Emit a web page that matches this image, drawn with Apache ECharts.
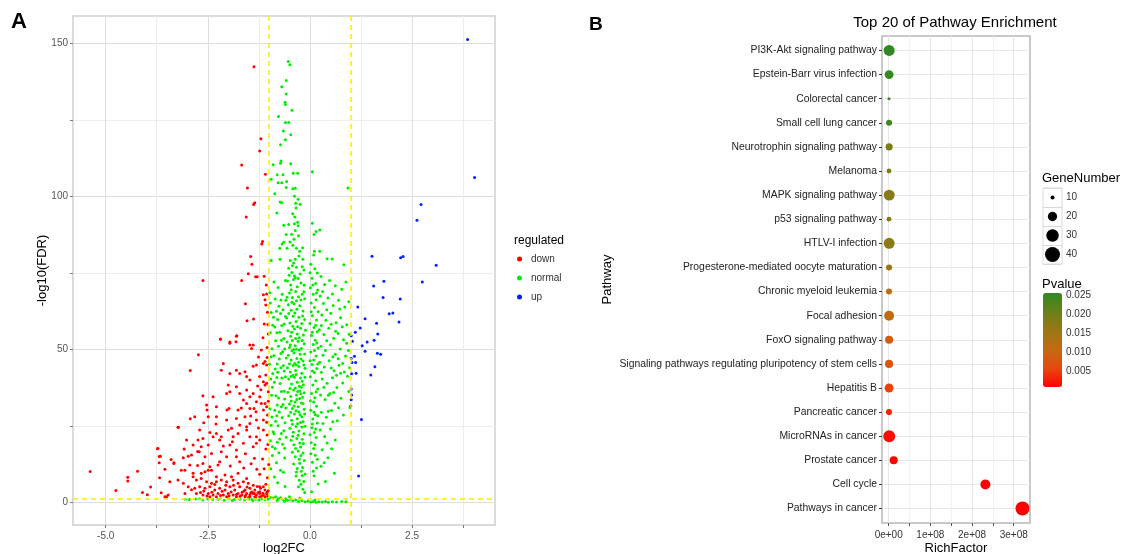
<!DOCTYPE html>
<html>
<head>
<meta charset="utf-8">
<script src="https://cdn.jsdelivr.net/npm/echarts@6/dist/echarts.min.js"></script>
<style>
  html, body { margin: 0; padding: 0; background: #fff; }
  #main { width: 1124px; height: 554px; }
</style>
</head>
<body>
<div id="main"></div>
<script>
// ---- panel A: volcano plot, [log2FC, -log10(FDR)] ----
const downPoints = [
  [-1.37,142.3],[-1.20,118.8],[-1.23,114.8],[-1.67,110.2],[-1.09,107.2],[-1.53,102.7],[-1.35,97.9],[-1.38,97.3],
  [-1.56,93.2],[-1.16,85.2],[-1.18,84.4],[-1.45,80.3],[-1.42,77.8],[-1.33,73.7],[-1.12,73.9],[-2.62,72.5],
  [-1.67,72.5],[-1.51,74.7],[-1.29,73.7],[-1.58,64.9],[-1.14,67.8],[-1.10,66.2],[-1.06,68.1],[-1.08,64.5],
  [-1.54,59.3],[-1.38,59.9],[-1.79,54.4],[-2.19,53.3],[-1.96,52.4],[-2.73,48.2],[-2.93,43.1],[-3.22,24.5],
  [-3.73,17.5],[-3.69,15.0],[-3.69,12.9],[-5.38,10.1],[-4.22,10.2],[-4.46,8.2],[-4.46,7.0],[-4.75,3.9],
  [-3.98,2.5],[-3.51,1.8],[-3.33,12.9],
  [-2.19,53.4],[-1.96,52.0],[-1.80,54.3],[-1.81,52.5],[-1.47,51.4],[-1.39,51.4],[-1.43,50.3],[-1.19,49.8],
  [-1.14,45.4],[-1.10,46.0],[-1.06,44.9],[-1.31,44.9],[-1.39,44.5],[-2.12,45.4],[-2.17,43.2],[-1.96,42.1],
  [-1.80,43.2],[-1.72,42.1],[-1.59,42.7],[-1.55,41.1],[-1.47,40.0],[-1.23,41.1],[-1.14,39.4],[-1.10,38.3],
  [-1.06,38.9],[-2.62,34.8],[-2.37,34.5],[-2.00,38.3],[-1.96,36.1],[-2.04,35.6],[-1.80,37.8],[-1.72,35.6],
  [-1.55,36.7],[-1.47,34.5],[-1.63,33.4],[-1.39,35.6],[-1.31,32.9],[-1.23,34.5],[-1.19,32.3],[-1.10,32.3],
  [-1.06,31.2],[-2.53,31.8],[-2.52,30.2],[-2.29,31.2],[-2.03,30.2],[-1.98,30.7],[-1.76,30.2],[-1.55,32.3],
  [-1.47,30.7],[-1.37,30.7],[-1.32,29.6],[-1.14,30.2],[-2.93,27.3],[-2.82,28.0],[-2.49,28.0],[-2.29,28.0],
  [-2.04,26.9],[-1.80,27.4],[-1.72,25.3],[-1.59,28.0],[-1.55,24.7],[-1.47,25.8],[-1.31,26.9],[-1.14,26.9],
  [-3.23,24.5],[-2.70,23.6],[-2.62,20.9],[-2.37,21.4],[-2.29,22.5],[-2.17,21.4],[-2.00,23.6],[-1.88,21.4],
  [-1.76,22.5],[-1.55,23.6],[-1.47,21.4],[-1.31,21.4],[-1.23,20.4],[-1.14,23.6],[-3.72,17.6],[-2.86,18.7],
  [-2.74,20.4],[-2.66,18.2],[-2.49,18.7],[-2.21,20.4],[-1.96,18.7],[-1.80,17.1],[-1.63,19.3],[-1.39,18.2],
  [-1.31,19.3],[-3.66,15.1],[-3.10,14.6],[-2.98,15.1],[-2.90,15.5],[-2.71,16.5],[-2.57,14.9],[-2.41,16.0],
  [-2.17,16.5],[-2.04,14.9],[-1.80,14.9],[-1.72,13.3],[-3.33,12.7],[-2.94,12.2],[-2.62,12.7],[-2.45,11.6],
  [-2.25,12.2],[-2.21,13.3],[-3.15,10.5],[-3.06,10.5],[-2.86,9.5],[-2.66,9.5],[-2.57,10.0],[-2.49,10.5],
  [-2.41,10.5],[-2.29,8.4],[-2.08,8.9],[-1.92,8.4],[-1.76,9.5],[-1.55,7.8],[-1.23,9.2],[-3.68,8.0],
  [-3.23,7.3],[-2.86,8.4],[-2.78,7.3],[-2.66,7.8],[-2.53,6.7],[-2.41,6.2],[-2.29,6.7],[-2.17,7.3],
  [-2.04,6.7],[-1.88,7.3],[-1.76,6.2],[-1.63,6.7],[-1.51,6.2],[-1.39,5.6],[-1.23,5.1],[-1.14,5.1],
  [-3.43,6.7],[-3.10,6.2],[-2.98,5.1],[-2.82,4.6],[-2.70,5.1],[-2.57,4.6],[-2.45,5.1],[-2.33,4.0],
  [-2.21,4.6],[-2.08,4.0],[-1.96,5.1],[-1.84,4.0],[-1.72,5.1],[-1.59,4.0],[-1.47,4.6],[-1.35,4.0],
  [-1.23,3.5],[-1.10,4.0],[-3.64,3.1],[-3.47,2.4],[-3.06,2.9],[-2.78,2.9],[-2.62,2.4],[-2.49,2.9],
  [-2.37,2.4],[-2.25,2.9],[-2.12,2.4],[-2.00,2.9],[-1.88,2.4],[-1.76,2.9],[-1.67,2.4],[-1.55,2.9],
  [-1.47,2.4],[-1.39,2.9],[-1.31,2.4],[-1.23,2.9],[-1.14,2.4],[-1.06,2.7],[-3.55,1.8],[-2.45,1.8],
  [-2.29,1.8],[-2.04,1.8],[-1.80,1.8],[-1.59,1.8],[-1.47,1.8],[-1.35,1.8],[-1.23,1.8],[-1.10,1.8],
  [-1.27,3.2],[-1.18,2.1],[-1.42,3.4],[-1.62,3.6],[-1.03,2.0],[-1.05,3.3],[-1.21,4.6],[-1.33,1.6],
  [-1.50,1.6],[-1.71,2.0],[-1.93,3.4],[-2.15,3.6],[-2.40,3.3],[-2.60,3.7],[-1.04,62.1],[-1.12,58.3],
  [-1.02,55.0],[-1.15,53.8],[-1.05,50.6],[-1.26,47.5],[-1.08,41.6],[-1.02,36.1],[-1.20,36.8],[-1.04,28.5],
  [-1.26,24.3],[-1.05,22.0],[-1.08,17.4],[-1.16,14.2],[-1.44,12.6],[-1.62,11.2],[-1.30,10.8],[-1.04,8.0],
  [-1.90,19.8],[-2.30,25.6],[-2.60,26.0],[-2.75,16.6],[-2.45,22.8],[-3.02,20.4],[-3.40,14.0],[-3.55,10.8],
  [-3.90,5.0],[-4.10,3.2],
  [-1.02,3.8],[-1.08,5.9],[-1.15,3.0],[-1.29,5.2],[-1.36,2.9],[-1.45,3.1],[-1.54,5.0],[-1.58,2.2],
  [-1.66,3.3],[-1.80,2.6],[-1.87,5.6],[-1.98,2.1],[-2.06,5.6],[-2.19,2.2],[-2.33,5.8],[-2.52,2.1],
  [-2.68,3.2],[-2.90,4.1],[-1.01,12.4],[-1.03,18.9],[-1.06,26.2],[-1.02,33.0],[-1.05,47.3],[-1.03,58.1],
  [-1.07,71.0],[-1.28,38.0],[-1.45,28.2],[-1.68,30.8],[-1.92,24.2],[-2.12,18.4],[-1.58,15.9],[-1.36,14.4],
  [-1.12,11.0],[-1.95,11.9],[-2.75,12.0],[-3.08,17.4]
];
const normalPoints = [
  // bottom strip, not significant
  [-3.05,1.0],[-2.95,0.9],[-2.80,1.1],[-2.62,0.8],[-2.50,1.1],[-2.38,0.9],[-2.25,1.0],[-2.10,0.7],
  [-1.98,1.1],[-1.85,0.9],[-1.72,1.0],[-1.60,0.8],[-1.50,1.1],[-1.42,0.9],[-1.33,1.0],[-1.25,0.8],
  [-1.18,1.1],[-1.10,0.9],[-1.03,1.0],[-0.97,1.6],[-0.90,1.4],[-0.84,1.8],[-0.78,1.2],[-0.72,1.5],
  [-0.66,0.9],[-0.60,1.2],[-0.55,0.7],[-0.48,1.0],[-0.42,0.5],[-0.35,0.8],[-0.28,0.3],[-0.20,0.6],
  [-0.12,0.2],[-0.05,0.4],[0.02,0.1],[0.08,0.3],[0.15,0.0],[0.22,0.2],[0.30,0.1],[0.38,0.3],
  [0.45,0.0],[0.55,0.2],[0.65,0.1],[0.78,0.3],[0.88,0.2],[-0.80,0.6],[-0.62,0.4],[-0.50,1.8],
  [-0.25,1.3],[0.12,0.8],[-2.70,1.2],[-2.20,1.2],[-1.90,0.6],[-1.40,0.6],
  // left band
  [-0.98,68.5],[-0.95,62.0],[-0.97,55.4],[-0.93,50.2],[-0.99,45.1],[-0.96,40.3],[-0.94,35.0],[-0.98,30.6],
  [-0.95,25.2],[-0.97,20.1],[-0.92,15.3],[-0.96,11.0],[-0.88,72.0],[-0.85,66.4],[-0.89,60.5],[-0.86,57.3],
  [-0.84,52.8],[-0.88,48.0],[-0.85,43.6],[-0.87,39.2],[-0.83,34.8],[-0.86,30.1],[-0.84,26.5],[-0.88,22.4],
  [-0.85,17.6],[-0.82,12.9],[-0.87,8.3],[-0.78,70.2],[-0.76,64.1],[-0.79,59.7],[-0.74,55.6],[-0.77,51.0],
  [-0.75,46.8],[-0.79,42.5],[-0.73,38.8],[-0.77,34.1],[-0.75,29.5],[-0.78,25.0],[-0.74,20.7],[-0.76,16.2],
  [-0.72,10.5],[-0.79,6.4],[-0.68,68.0],[-0.66,62.9],[-0.69,57.8],[-0.64,53.5],[-0.67,49.2],[-0.65,44.7],
  [-0.69,40.6],[-0.63,36.3],[-0.66,32.0],[-0.68,27.7],[-0.64,23.4],[-0.67,19.0],[-0.62,14.5],[-0.65,9.8],
  [-0.61,5.2],[-0.60,72.5],[-0.59,66.0],[-0.60,60.7],[-0.58,47.2],[-0.60,41.0],[-0.59,30.8],[-0.58,21.3],
  [-0.97,65.1],[-0.91,57.9],[-0.95,47.6],[-0.91,42.1],[-0.92,37.6],[-0.93,27.9],[-0.90,23.1],[-0.92,18.2],
  [-0.82,62.4],[-0.81,55.4],[-0.80,45.2],[-0.81,40.8],[-0.80,31.8],[-0.81,28.3],[-0.80,19.6],[-0.71,66.1],
  [-0.72,61.7],[-0.70,53.0],[-0.71,48.6],[-0.71,44.0],[-0.70,36.2],[-0.70,31.2],[-0.70,22.5],[-0.63,58.3],
  [-0.62,50.1],[-0.63,42.9],[-0.62,33.8],[-0.61,26.0],[-0.62,17.7],
  // main column left of zero
  [-0.35,97.7],[-0.34,96.2],[-0.42,94.3],[-0.37,93.2],[-0.30,91.5],[-0.38,91.0],[-0.29,90.4],[-0.52,90.8],
  [-0.36,88.8],[-0.45,87.6],[-0.39,86.0],[-0.28,87.1],[-0.49,85.1],[-0.56,83.0],[-0.33,83.0],[-0.18,83.2],
  [-0.25,82.0],[-0.42,84.0],[-0.36,79.4],[-0.17,79.4],[-0.40,78.2],[-0.27,80.5],[-0.48,79.0],[-0.52,76.5],
  [-0.44,75.1],[-0.33,76.8],[-0.24,74.6],[-0.15,75.9],[-0.38,74.0],[-0.55,72.3],[-0.47,71.0],[-0.40,72.8],
  [-0.31,70.4],[-0.22,71.7],[-0.14,70.9],[-0.36,73.5],[-0.50,68.4],[-0.43,66.9],[-0.35,68.9],[-0.28,67.2],
  [-0.19,68.0],[-0.13,66.5],[-0.56,67.0],[-0.53,64.6],[-0.46,62.8],[-0.39,64.9],[-0.32,63.1],[-0.25,64.2],
  [-0.17,62.5],[-0.44,65.4],[-0.57,60.2],[-0.49,58.6],[-0.41,60.8],[-0.34,59.1],[-0.27,60.5],[-0.20,58.4],
  [-0.13,59.7],[-0.54,56.1],[-0.47,54.3],[-0.38,56.6],[-0.31,55.0],[-0.23,56.9],[-0.16,54.7],[-0.42,57.5],
  [-0.26,53.8],[-0.56,52.4],[-0.50,50.6],[-0.43,52.9],[-0.36,51.2],[-0.29,52.6],[-0.21,50.3],[-0.14,51.8],
  [-0.33,50.0],[-0.53,48.1],[-0.46,46.5],[-0.39,48.8],[-0.32,47.0],[-0.24,48.4],[-0.17,46.2],[-0.44,49.5],
  [-0.28,45.8],[-0.55,44.0],[-0.48,42.6],[-0.41,44.7],[-0.35,43.1],[-0.27,44.4],[-0.20,42.2],[-0.12,43.8],
  [-0.37,45.4],[-0.52,40.3],[-0.45,38.7],[-0.38,40.9],[-0.31,39.2],[-0.23,40.6],[-0.16,38.4],[-0.42,41.5],
  [-0.26,37.9],[-0.54,36.0],[-0.47,34.6],[-0.40,36.7],[-0.33,35.1],[-0.25,36.4],[-0.18,34.3],[-0.36,37.4],
  [-0.22,35.5],[-0.50,32.1],[-0.43,30.7],[-0.36,32.8],[-0.29,31.2],[-0.21,32.5],[-0.14,30.4],[-0.32,33.6],
  [-0.52,28.3],[-0.45,26.8],[-0.38,28.9],[-0.31,27.3],[-0.24,28.6],[-0.17,26.4],[-0.27,29.5],[-0.49,24.2],
  [-0.41,22.9],[-0.34,24.8],[-0.27,23.3],[-0.20,24.6],[-0.15,22.4],[-0.46,20.3],[-0.39,18.8],[-0.32,20.9],
  [-0.25,19.4],[-0.19,20.6],[-0.23,18.1],[-0.43,16.4],[-0.36,14.9],[-0.29,16.8],[-0.22,15.3],[-0.17,16.1],
  [-0.40,12.5],[-0.31,11.1],[-0.25,12.8],[-0.18,11.4],[-0.21,10.2],[-0.34,8.6],[-0.26,7.2],[-0.19,8.8],
  [-0.22,5.9],[-0.15,6.8],[-0.17,4.3],
  [-0.51,74.2],[-0.43,77.3],[-0.29,73.1],[-0.19,77.0],[-0.46,69.5],[-0.33,65.9],[-0.22,66.1],[-0.15,68.8],
  [-0.52,61.7],[-0.37,61.9],[-0.30,57.4],[-0.18,60.9],[-0.11,56.2],[-0.45,55.6],[-0.35,53.5],[-0.19,52.9],
  [-0.48,51.4],[-0.40,49.9],[-0.26,49.8],[-0.13,48.5],[-0.50,45.3],[-0.33,44.9],[-0.22,46.8],[-0.15,44.9],
  [-0.46,41.1],[-0.34,41.8],[-0.19,39.6],[-0.12,40.9],[-0.49,37.2],[-0.30,36.2],[-0.21,37.6],[-0.14,35.8],
  [-0.46,33.1],[-0.39,31.5],[-0.25,33.9],[-0.17,32.3],[-0.47,29.4],[-0.34,29.9],[-0.20,28.0],[-0.13,28.9],
  [-0.43,25.5],[-0.30,25.7],[-0.23,26.1],[-0.12,24.9],[-0.42,21.6],[-0.29,21.9],[-0.16,19.2],[-0.35,17.6],
  [-0.26,14.1],[-0.14,13.7],[-0.33,9.9],[-0.12,9.3],[-0.28,5.1],[-0.13,3.2],
  // column just right of zero
  [0.06,91.2],[0.15,88.5],[0.24,89.0],[0.10,87.5],[0.11,82.0],[0.24,82.0],[0.09,80.8],[0.02,77.8],
  [0.12,76.3],[0.18,74.9],[0.05,73.2],[0.14,71.5],[0.01,70.1],[0.19,69.4],[0.08,68.0],[0.15,66.2],
  [0.03,65.1],[0.11,63.7],[0.20,62.3],[0.06,61.0],[0.16,59.6],[0.00,58.4],[0.10,57.1],[0.18,55.7],
  [0.04,54.5],[0.13,53.0],[0.08,51.6],[0.20,50.4],[0.02,49.1],[0.15,47.8],[0.09,46.5],[0.05,45.0],
  [0.17,43.7],[0.11,42.4],[0.01,41.0],[0.14,39.7],[0.07,38.3],[0.19,37.0],[0.04,35.6],[0.12,34.2],
  [0.09,32.8],[0.16,31.4],[0.02,30.1],[0.13,28.6],[0.07,27.2],[0.18,25.9],[0.05,24.4],[0.11,22.8],
  [0.15,21.2],[0.03,19.5],[0.09,17.6],[0.13,15.4],[0.06,13.1],[0.16,11.2],[0.10,8.7],[0.20,6.0],[0.04,3.5],
  [0.00,75.0],[0.07,71.0],[0.16,68.4],[0.03,62.3],[0.14,57.9],[0.06,55.6],[0.17,52.1],[0.11,49.6],
  [0.00,46.3],[0.19,45.2],[0.06,42.9],[0.15,36.1],[0.01,33.2],[0.10,29.4],[0.19,28.3],[0.06,25.6],
  [0.14,24.0],[0.00,22.1],[0.12,18.8],[0.02,15.9],[0.18,14.1],[0.08,10.2],
  // right band
  [0.42,79.6],[0.54,79.5],[0.83,77.6],[0.93,102.7],[0.27,73.8],[0.36,71.2],[0.48,72.5],[0.62,70.8],
  [0.78,69.6],[0.88,72.0],[0.25,67.4],[0.33,65.0],[0.44,66.8],[0.57,64.3],[0.70,66.0],[0.85,63.8],
  [0.95,65.5],[0.29,61.2],[0.39,59.5],[0.51,61.8],[0.64,58.7],[0.75,60.3],[0.90,58.0],[0.23,56.4],
  [0.34,54.8],[0.46,56.9],[0.58,53.6],[0.69,55.2],[0.82,53.1],[0.96,54.9],[0.27,51.0],[0.38,49.6],
  [0.50,51.5],[0.62,48.4],[0.74,50.1],[0.87,47.8],[0.94,49.6],[0.24,45.8],[0.35,44.2],[0.47,46.3],
  [0.59,43.0],[0.71,44.8],[0.84,42.6],[0.97,44.0],[0.30,40.3],[0.42,38.9],[0.55,40.7],[0.66,37.5],
  [0.80,39.0],[0.92,41.2],[0.26,35.1],[0.37,33.6],[0.49,35.6],[0.61,32.4],[0.76,34.0],[0.95,36.2],
  [0.98,31.0],[0.28,29.4],[0.40,27.8],[0.53,30.0],[0.67,26.7],[0.82,28.5],[0.25,23.6],[0.36,21.5],
  [0.50,24.0],[0.62,20.4],[0.30,17.2],[0.44,14.6],[0.27,11.8],[0.60,9.5],[0.38,6.8],
  [0.31,68.9],[0.55,68.1],[0.73,63.2],[0.41,62.9],[0.28,57.8],[0.52,58.2],[0.79,57.4],[0.63,55.9],
  [0.41,52.8],[0.32,48.1],[0.56,47.6],[0.69,46.9],[0.80,45.4],[0.90,52.0],[0.28,42.5],[0.52,43.9],
  [0.65,41.5],[0.75,42.2],[0.45,35.0],[0.34,37.6],[0.58,35.9],[0.70,30.9],[0.32,25.8],[0.45,29.8],
  [0.56,26.3],[0.42,19.4],[0.53,17.5],[0.35,12.9],
  // tall part
  [-0.53,144.0],[-0.49,143.0],[-0.58,137.8],[-0.69,135.8],[-0.58,133.4],[-0.61,130.7],[-0.60,130.0],[-0.44,128.1],
  [-0.77,126.1],[-0.60,124.1],[-0.52,124.1],[-0.65,121.3],[-0.47,120.1],[-0.60,118.5],[-0.72,116.8],[-0.71,111.5],
  [-0.72,110.8],[-0.47,110.6],[-0.90,110.3],[-0.41,107.5],[-0.30,107.5],[-0.95,105.6],[0.06,108.0],[-0.80,107.0],
  [-0.66,107.0],[-0.78,104.4],[-0.69,104.4],[-0.57,104.8],[-0.58,102.9],[-0.42,102.5],[-0.36,102.6],[-0.38,100.0],
  [-0.86,100.8],[-0.29,99.0],[-0.24,97.4],[-0.69,97.9],[-0.73,98.1],[-0.81,94.5],[-0.64,90.5],[-0.58,87.5],
  [-0.68,84.4],[-0.64,85.0],[-0.74,83.0],[-0.95,79.0],[-0.73,79.4]
];
const upPoints = [
  [3.86,151.2],[4.03,106.1],[2.72,97.3],[2.62,92.2],[1.52,80.4],[2.22,79.9],[2.28,80.3],[3.09,77.5],
  [1.81,72.2],[1.56,70.7],[2.75,72.0],[1.79,66.9],[2.21,66.4],[1.17,63.8],[1.94,61.6],[2.03,61.9],
  [1.35,60.0],[1.63,58.5],[2.18,58.9],[1.23,57.0],[1.11,55.6],[1.66,55.0],[1.01,54.4],[1.57,53.0],
  [1.04,52.6],[1.40,52.4],[1.28,51.2],[1.35,49.4],[1.65,48.7],[1.73,48.4],[1.09,47.7],[1.01,47.0],
  [1.03,45.7],[1.12,45.7],[1.59,44.3],[1.13,42.2],[1.02,42.0],[1.49,41.6],[1.01,37.0],[1.02,35.1],
  [1.01,33.5],[1.00,31.5],[1.26,27.1],[1.19,8.6]
];
const regulatedNames = ['down', 'normal', 'up'];
const log2fcMajor = 2.5;
const fdrMajor = 50;

// ---- panel B: pathway enrichment ----
const pathways = [
  'PI3K-Akt signaling pathway', 'Epstein-Barr virus infection', 'Colorectal cancer', 'Small cell lung cancer',
  'Neurotrophin signaling pathway', 'Melanoma', 'MAPK signaling pathway', 'p53 signaling pathway',
  'HTLV-I infection', 'Progesterone-mediated oocyte maturation', 'Chronic myeloid leukemia', 'Focal adhesion',
  'FoxO signaling pathway', 'Signaling pathways regulating pluripotency of stem cells', 'Hepatitis B',
  'Pancreatic cancer', 'MicroRNAs in cancer', 'Prostate cancer', 'Cell cycle', 'Pathways in cancer'
];
const richFactor = [1.2e6, 1.0e6, 0.8e6, 0.9e6, 1.1e6, 0.7e6, 1.3e6, 0.8e6, 1.2e6, 0.9e6,
  0.8e6, 1.0e6, 1.1e6, 0.9e6, 1.0e6, 0.7e6, 1.3e6, 1.2e7, 2.32e8, 3.21e8];
const geneNumber = [25, 19, 9, 13, 15, 11, 25, 11, 25, 13, 13, 22, 17, 17, 19, 13, 28, 17, 22, 36];
const pValue = [0.0255, 0.0250, 0.0248, 0.0245, 0.0190, 0.0185, 0.0178, 0.0175, 0.0170, 0.0160,
  0.0120, 0.0112, 0.0085, 0.0075, 0.0050, 0.0030, 0.0015, 0.0010, 0.0008, 0.0007];
const richMajor = 1e8;
const pvalueTicks = [0.005, 0.010, 0.015, 0.020, 0.025];
const geneLegend = [10, 20, 30, 40];

function geneSize(n) {
  return Math.sqrt(Math.max(6.97 * n - 53.7, 4));
}
// true when v sits on a major tick
function isMajor(v, step) {
  const r = v / step;
  return Math.abs(r - Math.round(r)) < 1e-6;
}

const chart = echarts.init(document.getElementById('main'));
const font = 'Liberation Sans, Arial, Helvetica, sans-serif';

const volcanoSeries = (name, data, color) => ({
  name: name,
  type: 'scatter',
  xAxisIndex: 0,
  yAxisIndex: 0,
  data: data,
  symbolSize: 3,
  itemStyle: { color: color, opacity: 1 },
  silent: true
});

const gridLines = { show: true, showMinLine: false, showMaxLine: false, lineStyle: { color: ['#dedede', '#ededed'], width: 1 } };
const fixedGrid = { show: false, containLabel: false, outerBoundsMode: 'none' };

const option = {
  animation: false,
  backgroundColor: '#fff',
  textStyle: { fontFamily: font },
  title: [
    { text: 'A', left: 11, top: 11, padding: 0, textStyle: { fontSize: 22, fontWeight: 'bold', color: '#000' } },
    { text: 'B', left: 589, top: 15, padding: 0, textStyle: { fontSize: 19, fontWeight: 'bold', color: '#000' } },
    { text: 'Top 20 of Pathway Enrichment', left: 955, textAlign: 'center', top: 15, padding: 0,
      textStyle: { fontSize: 15, fontWeight: 'normal', color: '#000' } },
    { text: 'regulated', left: 514, top: 235, padding: 0, textStyle: { fontSize: 12, fontWeight: 'normal', color: '#000' } },
    { text: 'GeneNumber', left: 1042, top: 172, padding: 0, textStyle: { fontSize: 13, fontWeight: 'normal', color: '#000' } },
    { text: 'Pvalue', left: 1042, top: 278, padding: 0, textStyle: { fontSize: 13, fontWeight: 'normal', color: '#000' } }
  ],
  legend: {
    data: regulatedNames,
    orient: 'vertical',
    left: 517,
    top: 253,
    padding: 0,
    itemWidth: 5,
    itemHeight: 5,
    itemGap: 7,
    icon: 'circle',
    textStyle: { fontSize: 10, color: '#333', lineHeight: 12, padding: [0, 0, 0, 4] }
  },
  grid: [
    Object.assign({}, fixedGrid, { left: 73, top: 16, width: 422, height: 509, show: true, borderColor: '#d0d0d0', borderWidth: 1.5, backgroundColor: '#fff' }),
    Object.assign({}, fixedGrid, { left: 882, top: 36, width: 148, height: 487, show: true, borderColor: '#b8b8b8', borderWidth: 1.5, backgroundColor: '#fff' }),
    Object.assign({}, fixedGrid, { left: 1043, top: 293, width: 19, height: 94 }),
    Object.assign({}, fixedGrid, { left: 1043, top: 188, width: 19, height: 76, show: true, borderColor: '#d9d9d9', borderWidth: 1, backgroundColor: '#fff' })
  ],
  xAxis: [
    {
      gridIndex: 0, type: 'value', min: -5.8, max: 4.53, minInterval: 1.25, maxInterval: 1.25,
      name: 'log2FC', nameLocation: 'middle', nameGap: 17, nameMoveOverlap: false,
      nameTextStyle: { fontSize: 13, color: '#000' },
      axisLine: { show: false, onZero: false },
      axisTick: { show: true, length: 3, lineStyle: { color: '#777' } },
      axisLabel: { showMinLabel: false, showMaxLabel: false, formatter: v => (isMajor(v, log2fcMajor) ? v.toFixed(1) : ''),
        fontSize: 10, color: '#555', margin: 6 },
      splitLine: gridLines
    },
    {
      gridIndex: 1, type: 'value', min: -0.16e8, max: 3.39e8, minInterval: 0.5e8, maxInterval: 0.5e8,
      name: 'RichFactor', nameLocation: 'middle', nameGap: 19, nameMoveOverlap: false,
      nameTextStyle: { fontSize: 13, color: '#000' },
      axisLine: { show: false, onZero: false },
      axisTick: { show: true, length: 3, lineStyle: { color: '#555' } },
      axisLabel: { showMinLabel: false, showMaxLabel: false,
        formatter: v => (!isMajor(v, richMajor) ? '' : (v === 0 ? '0e+00' : Math.round(v / 1e8) + 'e+08')),
        fontSize: 10, color: '#333', margin: 7 },
      splitLine: { show: true, showMinLine: false, showMaxLine: false, lineStyle: { color: ['#e6e6e6', '#f2f2f2'], width: 1 } }
    },
    { gridIndex: 2, type: 'value', min: 0, max: 1, show: false },
    { gridIndex: 3, type: 'category', data: ['key'], show: false }
  ],
  yAxis: [
    {
      gridIndex: 0, type: 'value', min: -7.4, max: 158.9, minInterval: 25, maxInterval: 25,
      name: '-log10(FDR)', nameLocation: 'middle', nameGap: 24, nameMoveOverlap: false,
      nameTextStyle: { fontSize: 13, color: '#000' },
      axisLine: { show: false, onZero: false },
      axisTick: { show: true, length: 3, lineStyle: { color: '#777' } },
      axisLabel: { showMinLabel: false, showMaxLabel: false, formatter: v => (isMajor(v, fdrMajor) ? String(v) : ''),
        fontSize: 10, color: '#555', margin: 5 },
      splitLine: gridLines
    },
    {
      gridIndex: 1, type: 'value', inverse: true, min: -0.6, max: 19.6, minInterval: 1, maxInterval: 1,
      name: 'Pathway', nameLocation: 'middle', nameGap: 268, nameMoveOverlap: false,
      nameTextStyle: { fontSize: 13, color: '#000' },
      axisLine: { show: false, onZero: false },
      axisTick: { show: true, length: 3, lineStyle: { color: '#333' } },
      axisLabel: { showMinLabel: false, showMaxLabel: false, formatter: v => pathways[v] || '', fontSize: 10.4, color: '#222', margin: 5 },
      splitLine: { show: true, showMinLine: false, showMaxLine: false, lineStyle: { color: '#e8e8e8', width: 1 } }
    },
    {
      gridIndex: 2, type: 'value', min: 0.0007, max: 0.0257, position: 'right',
      axisLine: { show: false },
      axisTick: { show: true, inside: true, length: 4, customValues: pvalueTicks, lineStyle: { color: '#fff' } },
      axisLabel: { customValues: pvalueTicks, formatter: v => v.toFixed(3), fontSize: 10, color: '#333', margin: 4 },
      splitLine: { show: false }
    },
    {
      gridIndex: 2, type: 'value', min: 0.0007, max: 0.0257, position: 'left',
      axisLine: { show: false },
      axisTick: { show: true, inside: true, length: 4, customValues: pvalueTicks, lineStyle: { color: '#fff' } },
      axisLabel: { show: false },
      splitLine: { show: false }
    },
    {
      gridIndex: 3, type: 'category', inverse: true, position: 'right', data: geneLegend.map(String),
      axisLine: { show: false }, axisTick: { show: false },
      axisLabel: { fontSize: 10, color: '#333', margin: 4 },
      splitLine: { show: true, interval: 0, lineStyle: { color: '#d9d9d9', width: 1 } }
    }
  ],
  visualMap: {
    type: 'continuous',
    seriesIndex: 3,
    dimension: 3,
    min: 0.0007,
    max: 0.0257,
    left: 1043,
    top: 293,
    padding: 0,
    itemWidth: 19,
    itemHeight: 94,
    calculable: false,
    showLabel: false,
    text: null,
    inRange: { color: ['#ff0000', '#e64a0e', '#c46a12', '#9a7814', '#6a8018', '#2e8a22'] }
  },
  series: [
    Object.assign(volcanoSeries('down', downPoints, '#ff0000'), {
      markLine: {
        silent: true,
        symbol: ['none', 'none'],
        label: { show: false },
        lineStyle: { color: '#ffe800', type: [5, 4], width: 1.5, opacity: 1 },
        data: [{ xAxis: -1 }, { xAxis: 1 }, { yAxis: 1.3 }]
      }
    }),
    volcanoSeries('normal', normalPoints, '#00ee00'),
    volcanoSeries('up', upPoints, '#0022ff'),
    {
      name: 'enrichment',
      type: 'scatter',
      xAxisIndex: 1,
      yAxisIndex: 1,
      data: pathways.map((p, i) => [richFactor[i], i, geneNumber[i], pValue[i]]),
      symbolSize: d => geneSize(d[2]),
      itemStyle: { opacity: 1 },
      silent: true
    },
    {
      name: 'gene key',
      type: 'scatter',
      xAxisIndex: 3,
      yAxisIndex: 4,
      data: geneLegend.map((g, i) => [0, i, g]),
      symbolSize: d => geneSize(d[2]),
      itemStyle: { color: '#000', opacity: 1 },
      silent: true
    }
  ]
};

chart.setOption(option);
</script>
</body>
</html>
